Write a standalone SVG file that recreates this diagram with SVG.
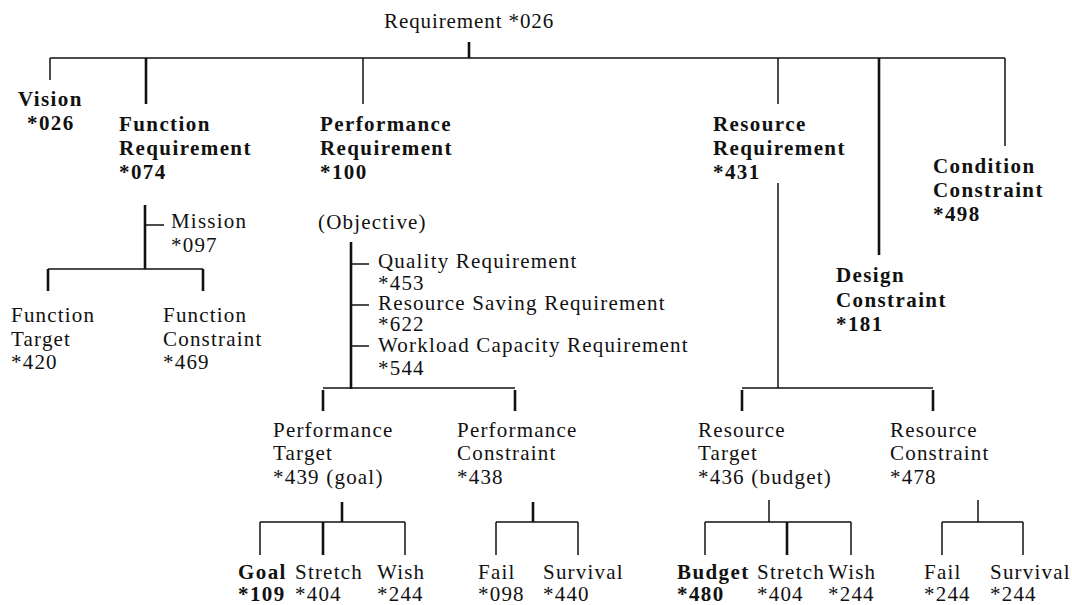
<svg xmlns="http://www.w3.org/2000/svg" width="1072" height="605" viewBox="0 0 1072 605">
<style>
text{font-family:"Liberation Serif","Times New Roman",serif;font-size:21px;letter-spacing:1.2px;fill:#111}
.b{font-weight:bold;letter-spacing:1.4px}
.c line{stroke:#111;stroke-width:1.5}
.c .t{stroke-width:2.6}
</style>
<rect width="1072" height="605" fill="#fff"/>
<g class="c" id="connectors">
<line class="t" x1="469" y1="42" x2="469" y2="58"/>
<line x1="50" y1="58" x2="1005" y2="58"/>
<line x1="50" y1="58" x2="50" y2="80"/>
<line class="t" x1="146" y1="58" x2="146" y2="104"/>
<line x1="363" y1="58" x2="363" y2="104"/>
<line x1="778" y1="58" x2="778" y2="104"/>
<line class="t" x1="879" y1="58" x2="879" y2="255"/>
<line x1="1005" y1="58" x2="1005" y2="146"/>
<line class="t" x1="145" y1="205" x2="145" y2="269"/>
<line x1="145" y1="225" x2="164" y2="225"/>
<line x1="48" y1="269" x2="203" y2="269"/>
<line class="t" x1="48" y1="269" x2="48" y2="291"/>
<line class="t" x1="203" y1="269" x2="203" y2="291"/>
<line class="t" x1="351" y1="242" x2="351" y2="389"/>
<line x1="351" y1="264" x2="369" y2="264"/>
<line x1="351" y1="305" x2="369" y2="305"/>
<line x1="351" y1="346" x2="369" y2="346"/>
<line x1="323" y1="388" x2="515" y2="388"/>
<line class="t" x1="323" y1="390" x2="323" y2="411"/>
<line class="t" x1="515" y1="390" x2="515" y2="411"/>
<line x1="778" y1="183" x2="778" y2="388"/>
<line x1="742" y1="388" x2="933" y2="388"/>
<line class="t" x1="742" y1="390" x2="742" y2="411"/>
<line class="t" x1="933" y1="390" x2="933" y2="411"/>
<line class="t" x1="342" y1="502" x2="342" y2="522"/>
<line x1="260" y1="522" x2="405" y2="522"/>
<line x1="260" y1="522" x2="260" y2="555"/>
<line class="t" x1="323" y1="522" x2="323" y2="555"/>
<line x1="405" y1="522" x2="405" y2="555"/>
<line class="t" x1="533" y1="502" x2="533" y2="522"/>
<line x1="496" y1="522" x2="578" y2="522"/>
<line x1="496" y1="522" x2="496" y2="555"/>
<line x1="578" y1="522" x2="578" y2="555"/>
<line x1="769" y1="500" x2="769" y2="522"/>
<line x1="705" y1="522" x2="851" y2="522"/>
<line x1="705" y1="522" x2="705" y2="555"/>
<line class="t" x1="787" y1="522" x2="787" y2="555"/>
<line x1="851" y1="522" x2="851" y2="555"/>
<line x1="978" y1="500" x2="978" y2="522"/>
<line x1="942" y1="522" x2="1023" y2="522"/>
<line x1="942" y1="522" x2="942" y2="555"/>
<line x1="1023" y1="522" x2="1023" y2="555"/>
</g>
<g id="root"><text x="384" y="28" style="letter-spacing:0.9px">Requirement *026</text></g>
<g id="vision"><text class="b" x="18" y="106">Vision</text><text class="b" x="27" y="130">*026</text></g>
<g id="function"><text class="b" x="119" y="131">Function</text><text class="b" x="119" y="155">Requirement</text><text class="b" x="119" y="179">*074</text></g>
<g id="performance"><text class="b" x="320" y="131">Performance</text><text class="b" x="320" y="155">Requirement</text><text class="b" x="320" y="179">*100</text></g>
<g id="resource"><text class="b" x="713" y="131">Resource</text><text class="b" x="713" y="155">Requirement</text><text class="b" x="713" y="179">*431</text></g>
<g id="design"><text class="b" x="836" y="282">Design</text><text class="b" x="836" y="307">Constraint</text><text class="b" x="836" y="331">*181</text></g>
<g id="condition"><text class="b" x="933" y="173">Condition</text><text class="b" x="933" y="197">Constraint</text><text class="b" x="933" y="221">*498</text></g>
<g id="mission"><text x="171" y="228">Mission</text><text x="171" y="252">*097</text></g>
<g id="function-target"><text x="11" y="322">Function</text><text x="11" y="346">Target</text><text x="11" y="369">*420</text></g>
<g id="function-constraint"><text x="163" y="322">Function</text><text x="163" y="346">Constraint</text><text x="163" y="369">*469</text></g>
<g id="objective"><text x="318" y="229">(Objective)</text></g>
<g id="quality"><text x="378" y="268">Quality Requirement</text><text x="378" y="290">*453</text></g>
<g id="saving"><text x="378" y="310">Resource Saving Requirement</text><text x="378" y="331">*622</text></g>
<g id="workload"><text x="378" y="352">Workload Capacity Requirement</text><text x="378" y="375">*544</text></g>
<g id="perf-target"><text x="273" y="437">Performance</text><text x="273" y="460">Target</text><text x="273" y="484">*439 (goal)</text></g>
<g id="perf-constraint"><text x="457" y="437">Performance</text><text x="457" y="460">Constraint</text><text x="457" y="484">*438</text></g>
<g id="res-target"><text x="698" y="437">Resource</text><text x="698" y="460">Target</text><text x="698" y="484">*436 (budget)</text></g>
<g id="res-constraint"><text x="890" y="437">Resource</text><text x="890" y="460">Constraint</text><text x="890" y="484">*478</text></g>
<g id="goal"><text class="b" x="238" y="579">Goal</text><text class="b" x="238" y="601">*109</text></g>
<g id="stretch1"><text x="295" y="579">Stretch</text><text x="295" y="601">*404</text></g>
<g id="wish1"><text x="377" y="579">Wish</text><text x="377" y="601">*244</text></g>
<g id="fail1"><text x="478" y="579">Fail</text><text x="478" y="601">*098</text></g>
<g id="survival1"><text x="543" y="579">Survival</text><text x="543" y="601">*440</text></g>
<g id="budget"><text class="b" x="677" y="579">Budget</text><text class="b" x="677" y="601">*480</text></g>
<g id="stretch2"><text x="757" y="579">Stretch</text><text x="757" y="601">*404</text></g>
<g id="wish2"><text x="828" y="579">Wish</text><text x="828" y="601">*244</text></g>
<g id="fail2"><text x="924" y="579">Fail</text><text x="924" y="601">*244</text></g>
<g id="survival2"><text x="990" y="579">Survival</text><text x="990" y="601">*244</text></g>
</svg>
